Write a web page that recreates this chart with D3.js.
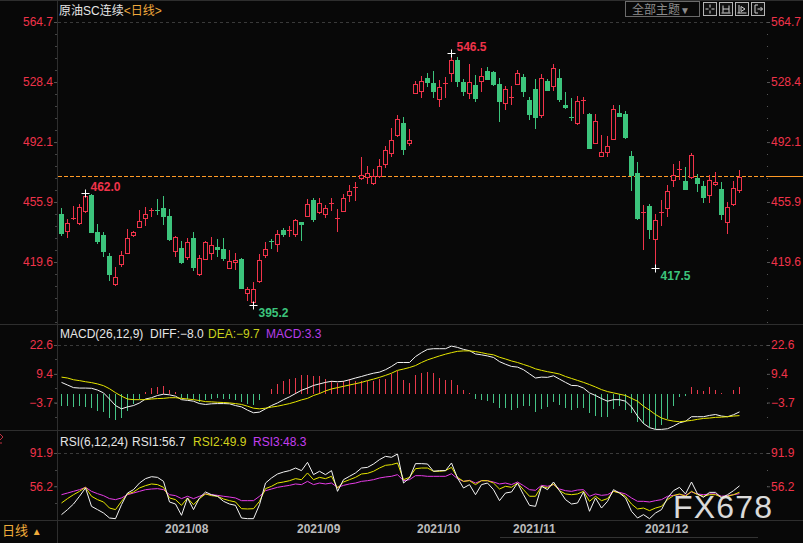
<!doctype html>
<html>
<head>
<meta charset="utf-8">
<title>原油SC连续 日线</title>
<style>
  html, body { margin: 0; padding: 0; background: #080808; }
  svg { display: block; }
  text { font-family: "Liberation Sans", Arial, "Noto Sans CJK SC", sans-serif; }
</style>
</head>
<body>
<div id="chart"></div>
<script src="https://cdn.jsdelivr.net/npm/d3@7"></script>
<script>
// 原油SC连续 日线 2021/07/08 - 2021/12/23
var openP = [
  448.9, 438.4, 445.7, 443.3, 450.5, 460.0, 437.6, 435.8, 423.1, 406.4,
  418.5, 425.1, 436.2, 440.9, 446.5, 450.5, 451.2, 452.2, 447.3, 426.0,
  427.9, 422.7, 434.0, 412.4, 421.7, 425.1, 428.6, 427.4, 416.0, 419.3,
  421.3, 400.9, 395.6, 408.2, 423.7, 432.0, 430.6, 438.7, 438.6, 436.6,
  443.5, 447.5, 457.0, 449.9, 448.7, 454.8, 445.5, 450.5, 460.2, 464.8,
  470.5, 470.7, 467.5, 471.7, 478.6, 485.3, 496.3, 503.6, 491.7, 521.9,
  523.1, 530.8, 527.8, 518.3, 527.4, 534.0, 541.7, 528.4, 521.7, 526.6,
  528.8, 535.0, 534.4, 527.2, 515.7, 519.1, 527.4, 531.4, 517.5, 524.2,
  508.4, 529.0, 526.0, 530.8, 514.5, 507.2, 503.6, 517.3, 509.0, 491.5,
  483.8, 486.0, 494.1, 509.6, 509.0, 483.8, 473.3, 449.5, 453.4, 433.6,
  449.5, 452.4, 468.9, 475.6, 468.3, 470.7, 470.3, 465.5, 459.9, 466.5,
  463.7, 443.5, 454.4, 463.1];
var highP = [
  452.0, 445.3, 453.4, 454.6, 462.0, 460.6, 442.5, 437.6, 424.8, 416.3,
  426.2, 439.3, 438.2, 450.9, 452.8, 452.3, 457.4, 459.4, 451.4, 435.2,
  432.2, 434.2, 437.6, 423.7, 432.2, 434.6, 433.8, 434.0, 426.6, 424.9,
  422.3, 404.5, 407.4, 424.3, 431.8, 433.8, 438.7, 439.9, 441.3, 445.3,
  443.9, 457.6, 458.2, 458.2, 453.8, 458.2, 451.6, 461.0, 466.1, 467.9,
  483.2, 477.6, 475.8, 481.8, 489.9, 500.6, 508.4, 507.2, 500.1, 529.0,
  532.0, 533.7, 535.0, 529.6, 531.4, 546.5, 543.5, 530.2, 539.3, 532.6,
  536.9, 537.5, 535.0, 530.8, 526.0, 526.0, 535.7, 533.2, 519.3, 530.2,
  533.2, 530.2, 539.3, 536.3, 522.3, 518.7, 519.9, 519.3, 509.6, 509.0,
  496.3, 495.7, 514.5, 514.5, 510.9, 486.6, 480.0, 454.0, 454.6, 448.5,
  457.0, 466.1, 478.8, 480.4, 477.0, 485.3, 472.7, 468.5, 472.0, 473.9,
  467.9, 455.8, 468.5, 475.2];
var lowP = [
  435.8, 434.8, 445.5, 442.8, 449.9, 437.5, 430.8, 423.1, 408.6, 405.8,
  417.3, 425.0, 435.4, 440.7, 442.1, 447.5, 448.4, 442.7, 433.2, 423.3,
  419.1, 421.5, 414.7, 412.0, 421.5, 421.5, 423.3, 420.7, 415.7, 415.4,
  403.7, 396.7, 395.2, 407.6, 422.7, 428.1, 426.2, 435.4, 435.4, 435.4,
  432.8, 447.3, 444.3, 449.3, 446.9, 450.9, 438.2, 450.3, 456.4, 457.0,
  469.5, 467.5, 466.7, 471.1, 477.2, 483.6, 495.7, 484.8, 490.5, 521.5,
  519.3, 526.2, 519.3, 513.9, 519.3, 529.0, 526.0, 520.5, 518.7, 516.9,
  523.1, 530.0, 526.6, 504.8, 512.1, 515.1, 527.2, 519.9, 506.0, 500.6,
  507.2, 523.3, 523.5, 516.9, 512.7, 505.4, 503.0, 509.6, 488.3, 491.3,
  483.6, 483.6, 493.9, 507.6, 494.5, 463.1, 445.5, 427.6, 434.0, 417.5,
  442.1, 447.5, 465.7, 469.9, 463.6, 470.5, 462.6, 455.6, 456.0, 466.3,
  445.7, 437.2, 454.2, 462.0];
var closeP = [
  437.2, 442.9, 446.5, 452.6, 459.4, 437.8, 432.4, 426.3, 412.4, 410.8,
  424.1, 434.4, 437.6, 444.1, 448.5, 451.0, 450.8, 447.5, 433.4, 434.6,
  419.5, 431.6, 416.7, 422.3, 431.6, 429.6, 427.6, 422.1, 420.1, 420.7,
  403.9, 403.2, 403.2, 420.7, 427.2, 431.6, 436.3, 436.6, 439.0, 444.7,
  442.7, 454.4, 445.5, 455.0, 452.0, 455.2, 445.9, 458.0, 462.3, 465.2,
  471.9, 473.2, 471.7, 477.6, 487.3, 493.1, 506.0, 488.0, 493.3, 527.0,
  529.0, 528.4, 522.9, 525.4, 527.8, 541.7, 529.0, 522.9, 528.4, 518.7,
  532.0, 530.2, 527.2, 516.9, 524.2, 519.5, 533.8, 522.9, 509.0, 507.2,
  530.8, 523.5, 536.9, 518.1, 513.3, 506.8, 516.9, 517.7, 488.5, 504.8,
  486.0, 489.7, 512.1, 507.8, 495.1, 472.3, 445.9, 449.9, 439.5, 444.7,
  449.9, 462.3, 471.9, 476.0, 463.8, 484.0, 467.5, 458.6, 468.9, 467.9,
  448.7, 452.8, 464.1, 470.7];

// MACD(26,12,9)
var diff = [
  5.5, 4.3, 3.1, 2.9, 2.9, 2.8, 2.0, 0.7, -2.1, -5.1,
  -6.6, -5.7, -5.1, -3.9, -2.1, -1.5, -0.5, 0.1, -0.2, -0.8,
  -2.4, -2.7, -3.1, -4.2, -4.6, -4.3, -4.2, -4.2, -4.3, -5.1,
  -5.7, -7.2, -8.4, -8.1, -6.6, -5.1, -3.9, -2.4, -1.1, 0.4,
  1.9, 2.9, 4.1, 4.8, 5.5, 6.0, 5.8, 6.0, 6.7, 7.5,
  8.2, 9.0, 9.7, 10.2, 11.3, 12.8, 14.6, 14.6, 14.6, 17.3,
  19.1, 20.6, 20.9, 20.9, 20.9, 22.1, 21.5, 20.6, 20.0, 18.5,
  18.1, 17.6, 16.9, 15.0, 13.8, 12.8, 12.5, 11.3, 9.4, 7.5,
  7.9, 7.8, 8.5, 7.0, 5.5, 4.1, 4.0, 2.9, 0.7, -0.5,
  -1.9, -3.1, -2.4, -2.4, -3.1, -5.7, -9.9, -13.3, -15.2, -16.0,
  -16.0, -15.7, -14.5, -13.0, -12.3, -10.2, -10.2, -10.2, -9.6, -9.2,
  -9.9, -10.2, -9.3, -8.0];
var dea = [
  7.9, 7.5, 6.7, 6.3, 5.8, 5.4, 4.8, 4.0, 2.6, 0.8,
  -0.8, -2.1, -2.4, -2.4, -2.4, -2.1, -1.9, -1.8, -1.5, -1.5,
  -1.8, -2.1, -2.4, -2.8, -3.3, -3.4, -3.6, -3.7, -3.9, -4.2,
  -4.6, -5.4, -6.3, -6.6, -6.3, -5.8, -5.4, -4.8, -4.2, -3.4,
  -2.5, -1.8, -0.5, 0.4, 1.6, 2.5, 3.1, 3.7, 4.3, 4.9,
  5.5, 6.3, 7.0, 7.8, 8.7, 9.7, 11.0, 11.6, 12.3, 13.2,
  14.6, 15.8, 16.7, 17.6, 18.4, 19.1, 19.7, 19.9, 19.9, 19.6,
  19.1, 18.5, 18.1, 17.0, 16.2, 15.3, 14.6, 13.7, 12.8, 11.7,
  11.0, 10.4, 9.9, 9.3, 8.2, 7.3, 6.4, 5.5, 4.5, 3.4,
  2.2, 1.3, 0.7, 0.1, -0.5, -1.8, -3.1, -5.4, -7.2, -9.2,
  -10.8, -11.7, -12.2, -12.5, -12.2, -11.9, -11.4, -11.0, -10.8, -10.5,
  -10.4, -10.2, -9.9, -9.7];
var macdBar = [
  -5.4, -5.4, -5.9, -5.4, -5.9, -6.4, -7.4, -8.2, -10.6, -11.5,
  -10.6, -7.4, -4.4, -2.1, 1.2, 2.9, 3.5, 3.9, 2.0, 0.9,
  -1.5, -2.1, -2.1, -3.3, -2.7, -2.1, -1.7, -2.1, -2.1, -2.7,
  -3.6, -4.4, -4.8, -2.6, 0.3, 2.7, 4.7, 6.2, 7.0, 7.7,
  8.8, 8.8, 8.2, 8.2, 7.0, 6.2, 5.4, 6.1, 7.0, 6.2,
  6.2, 6.2, 6.2, 7.0, 7.0, 9.2, 10.7, 6.5, 5.4, 8.8,
  10.0, 10.3, 10.0, 7.4, 6.5, 6.5, 4.2, 1.8, 0.6, -2.1,
  -2.6, -2.9, -3.9, -6.4, -6.4, -7.0, -6.4, -5.4, -5.4, -8.2,
  -6.7, -5.9, -3.6, -4.8, -6.4, -7.0, -6.4, -6.4, -8.5, -9.7,
  -10.4, -10.4, -6.7, -5.1, -7.0, -8.5, -12.4, -13.5, -15.0, -15.7,
  -13.9, -11.2, -5.4, -1.4, -0.9, 3.2, 2.1, 1.7, 3.5, 2.0,
  0.6, 0.2, 2.0, 3.3];

// RSI(6,12,24)
var rsi1 = [
  25.8, 31.2, 37.2, 45.5, 54.4, 34.7, 31.2, 27.6, 22.2, 21.5,
  36.5, 49.0, 52.6, 59.7, 64.4, 66.5, 65.8, 61.5, 39.4, 37.2,
  25.1, 43.7, 31.2, 43.7, 50.1, 47.2, 45.5, 40.1, 37.2, 35.8,
  22.2, 21.5, 21.5, 36.5, 59.7, 65.1, 69.4, 71.5, 73.0, 75.8,
  73.0, 81.9, 68.7, 72.3, 68.7, 73.0, 50.8, 63.3, 66.9, 70.5,
  75.8, 76.5, 80.1, 84.8, 88.3, 87.3, 90.8, 59.7, 65.1, 80.5,
  80.5, 80.1, 72.3, 73.0, 73.0, 81.2, 65.1, 54.4, 58.0, 47.2,
  58.0, 59.7, 52.6, 40.8, 49.0, 50.1, 59.7, 47.2, 35.8, 34.7,
  56.2, 52.6, 60.8, 51.5, 41.9, 37.2, 38.3, 50.1, 29.4, 43.7,
  32.9, 40.1, 52.6, 49.0, 43.7, 29.4, 22.2, 25.8, 21.5, 27.6,
  31.2, 43.7, 51.5, 55.1, 48.0, 60.8, 48.0, 44.4, 49.7, 49.7,
  43.7, 47.2, 51.5, 56.7];
var rsi2 = [
  38.3, 43.0, 47.2, 50.8, 55.1, 45.5, 41.9, 39.4, 32.9, 31.2,
  40.1, 48.0, 50.1, 54.4, 56.9, 58.7, 58.0, 55.1, 43.7, 41.9,
  35.8, 43.7, 36.5, 43.0, 48.0, 46.2, 45.5, 42.6, 40.8, 39.4,
  32.2, 31.9, 32.2, 40.1, 53.7, 56.2, 59.7, 60.8, 62.2, 64.4,
  63.3, 70.5, 63.3, 65.8, 64.4, 66.9, 54.4, 60.8, 63.3, 65.8,
  69.4, 70.1, 72.3, 75.8, 78.7, 79.4, 81.2, 63.3, 65.8, 75.1,
  75.8, 75.8, 72.3, 72.3, 73.0, 76.5, 65.8, 61.5, 62.2, 58.0,
  62.2, 62.2, 59.7, 53.3, 56.2, 55.1, 59.7, 52.6, 45.5, 45.5,
  56.2, 54.4, 58.7, 51.5, 48.0, 47.2, 48.0, 50.8, 40.1, 45.5,
  40.8, 43.0, 50.8, 49.0, 45.5, 37.2, 31.9, 32.9, 30.1, 32.9,
  34.7, 41.9, 46.2, 48.0, 45.5, 50.8, 47.2, 45.5, 47.2, 47.2,
  44.4, 45.5, 47.2, 49.9];
var rsi3 = [
  47.2, 49.0, 50.8, 52.6, 55.1, 50.8, 48.3, 46.2, 43.0, 41.9,
  43.7, 47.2, 49.0, 50.8, 52.6, 53.3, 53.7, 52.6, 47.2, 46.2,
  43.0, 45.5, 43.0, 45.5, 48.0, 47.2, 46.5, 45.5, 44.7, 43.7,
  40.8, 40.8, 40.8, 45.5, 51.5, 53.3, 55.1, 56.2, 57.2, 58.7,
  58.0, 61.5, 58.0, 59.7, 58.7, 59.7, 55.1, 57.2, 58.7, 59.7,
  61.5, 62.2, 63.3, 65.1, 66.2, 66.9, 68.7, 62.2, 63.3, 67.6,
  67.6, 66.9, 66.9, 66.9, 66.9, 69.7, 64.4, 61.5, 62.6, 59.7,
  62.2, 62.2, 60.8, 58.7, 59.7, 58.0, 60.8, 56.9, 52.6, 51.9,
  57.2, 56.2, 58.0, 53.3, 51.5, 50.8, 52.2, 52.6, 45.5, 48.0,
  46.5, 47.2, 50.8, 49.7, 48.0, 43.7, 40.1, 40.1, 39.4, 40.8,
  41.9, 45.5, 46.5, 47.2, 46.5, 50.1, 48.0, 47.2, 48.0, 48.0,
  45.5, 46.2, 47.2, 48.3];

// axis ticks and month labels
var priceTicks = [564.7, 528.4, 492.1, 455.9, 419.6];
var macdTicks = [22.6, 9.4, -3.7];
var rsiTicks = [91.9, 56.2];
var monthLabels = ["2021/08", "2021/09", "2021/10", "2021/11", "2021/12"];
var monthStart = [17, 39, 59, 75, 97];   // index of first trading day
// marked extremes (index of candle, high or low)
var marks = [{i: 4, type: "high"}, {i: 32, type: "low"}, {i: 65, type: "high"}, {i: 99, type: "low"}];

var W = 803, H = 543;
var bg = "#080808", red = "#f0334a", green = "#3cc47c", line = "#2e2e2e", orange = "#ff9a26";
var n = closeP.length;

var svg = d3.select("#chart").append("svg")
  .attr("width", W).attr("height", H)
  .style("background", bg);

// scales
var x = d3.scaleBand().domain(d3.range(n)).range([58, 58 + 6 * n]);
function xc(i) { return x(i) + x.bandwidth() / 2; }
var yP = d3.scaleLinear().domain([564.7, 419.6]).range([22, 262]);
var yM = d3.scaleLinear().domain([22.6, -3.7]).range([345, 402.5]);
var yR = d3.scaleLinear().domain([91.9, 56.2]).range([453, 486.3]);

var defs = svg.append("defs");
function clip(id, y0, y1) {
  defs.append("clipPath").attr("id", id).append("rect")
    .attr("x", 58).attr("y", y0).attr("width", 709).attr("height", y1 - y0);
}
clip("cP", 18, 324);
clip("cM", 325, 430);
clip("cR", 432, 520);

// frame lines
[0.5, 324.5, 430.5, 520.5].forEach(function (yy) {
  svg.append("line").attr("x1", 0).attr("x2", W).attr("y1", yy).attr("y2", yy)
    .attr("stroke", line);
});
svg.append("line").attr("x1", 57.5).attr("x2", 57.5).attr("y1", 0).attr("y2", H).attr("stroke", line);

// dashed top gridlines
[yP(priceTicks[0]), yM(macdTicks[0]), yR(rsiTicks[0])].forEach(function (yy) {
  svg.append("line").attr("x1", 58).attr("x2", 767).attr("y1", Math.round(yy) + 0.5).attr("y2", Math.round(yy) + 0.5)
    .attr("stroke", "#3a3a3a").attr("stroke-dasharray", "3,3");
});

// minor ticks
function minor(scale, v0, step, vEnd) {
  d3.range(v0, vEnd, -step).forEach(function (v) {
    var yy = Math.round(scale(v)) + 0.5;
    svg.append("line").attr("x1", 55).attr("x2", 57).attr("y1", yy).attr("y2", yy).attr("stroke", "#444");
    svg.append("line").attr("x1", 767).attr("x2", 768).attr("y1", yy).attr("y2", yy).attr("stroke", "#555");
  });
}
minor(yP, 564.7, 36.28 / 5, 382);
minor(yM, 22.6, 13.15 / 2, -13);
minor(yR, 91.9, 35.7 / 2, 21);

// axes
function sideAxes(scale, ticks) {
  var l = svg.append("g").attr("transform", "translate(57,0)")
    .call(d3.axisLeft(scale).tickValues(ticks).tickSize(3).tickPadding(1).tickFormat(d3.format(".1f")));
  var r = svg.append("g").attr("transform", "translate(767,0)")
    .call(d3.axisRight(scale).tickValues(ticks).tickSize(3).tickPadding(1).tickFormat(d3.format(".1f")));
  [l, r].forEach(function (g) {
    g.select(".domain").remove();
    g.attr("font-size", 12).attr("font-family", "Liberation Sans, Arial, sans-serif");
    g.selectAll("line").attr("stroke", "#555");
    g.selectAll("text").attr("fill", red);
  });
}
sideAxes(yP, priceTicks);
sideAxes(yM, macdTicks);
sideAxes(yR, rsiTicks);

// current price line
var yLast = Math.floor(yP(closeP[n - 1])) - 0.5;
svg.append("line").attr("x1", 58).attr("x2", 767).attr("y1", yLast).attr("y2", yLast)
  .attr("stroke", orange).attr("stroke-dasharray", "4,2");
svg.append("line").attr("x1", 767).attr("x2", W).attr("y1", yLast).attr("y2", yLast)
  .attr("stroke", orange);

// candles
var gK = svg.append("g").attr("clip-path", "url(#cP)");
var k = gK.selectAll("g").data(d3.range(n)).enter().append("g");
k.each(function (i) {
  var g = d3.select(this);
  var cx = xc(i), up = closeP[i] >= openP[i];
  var col = up ? red : green;
  var top = Math.round(yP(Math.max(openP[i], closeP[i])));
  var bot = Math.round(yP(Math.min(openP[i], closeP[i])));
  g.append("line").attr("x1", cx + 0.5).attr("x2", cx + 0.5)
    .attr("y1", Math.round(yP(highP[i]))).attr("y2", Math.round(yP(lowP[i])) + 1)
    .attr("stroke", col);
  if (bot - top < 2) {
    g.append("line").attr("x1", cx - 2).attr("x2", cx + 3)
      .attr("y1", top + 0.5).attr("y2", top + 0.5).attr("stroke", col);
  } else if (up) {
    g.append("rect").attr("x", cx - 1.5).attr("y", top + 0.5)
      .attr("width", 4).attr("height", bot - top)
      .attr("fill", bg).attr("stroke", col);
  } else {
    g.append("rect").attr("x", cx - 2).attr("y", top)
      .attr("width", 5).attr("height", bot - top + 1)
      .attr("fill", col);
  }
});

// extreme marks
marks.forEach(function (m) {
  var v = m.type === "high" ? highP[m.i] : lowP[m.i];
  var cx = xc(m.i) + 0.5, yy = Math.round(yP(v)) + (m.type === "high" ? 1 : 3) + 0.5;
  svg.append("path").attr("d", "M" + (cx - 4) + "," + yy + "H" + (cx + 4) + "M" + cx + "," + (yy - 4) + "V" + (yy + 4))
    .attr("stroke", "#fff");
  svg.append("text").attr("x", cx + 5).attr("y", m.type === "high" ? yP(v) - 1 : yP(v) + 15)
    .attr("fill", m.type === "high" ? red : green).attr("font-size", 12).attr("font-weight", "bold")
    .text(d3.format(".1f")(v));
});

// MACD
var gM = svg.append("g").attr("clip-path", "url(#cM)");
gM.selectAll("line").data(macdBar).enter().append("line")
  .attr("x1", function (d, i) { return xc(i) + 0.5; })
  .attr("x2", function (d, i) { return xc(i) + 0.5; })
  .attr("y1", Math.round(yM(0)))
  .attr("y2", function (d) { return Math.round(yM(d)); })
  .attr("stroke", function (d) { return d >= 0 ? "#e8394b" : "#45c487"; });
function pathOf(g, data, scale, col) {
  g.append("path").datum(data)
    .attr("d", d3.line().x(function (d, i) { return xc(i) + 0.5; }).y(function (d) { return scale(d); }))
    .attr("fill", "none").attr("stroke", col).attr("stroke-width", 1);
}
pathOf(gM, diff, yM, "#f4f4f4");
pathOf(gM, dea, yM, "#e6e600");

// RSI
var gR = svg.append("g").attr("clip-path", "url(#cR)");
pathOf(gR, rsi3, yR, "#e63ce6");
pathOf(gR, rsi2, yR, "#e6e600");
pathOf(gR, rsi1, yR, "#f4f4f4");

// titles
var t1 = svg.append("text").attr("x", 59).attr("y", 15).attr("font-size", 12)
  .attr("font-family", "Noto Sans CJK SC, sans-serif");
t1.append("tspan").attr("fill", "#e6e6e6").text("原油SC连续");
t1.append("tspan").attr("fill", "#f0a83c").text("<日线>");

var mt = svg.append("text").attr("y", 338).attr("font-size", 12);
mt.append("tspan").attr("x", 60).attr("fill", "#e6e6e6").text("MACD(26,12,9)");
mt.append("tspan").attr("x", 150).attr("fill", "#e6e6e6").text("DIFF:" + d3.format(".1f")(diff[n - 1]));
mt.append("tspan").attr("x", 208).attr("fill", "#c8d21c").text("DEA:" + d3.format(".1f")(dea[n - 1]));
mt.append("tspan").attr("x", 266).attr("fill", "#b63ee8").text("MACD:" + d3.format(".1f")(macdBar[n - 1]));

var rt = svg.append("text").attr("y", 446).attr("font-size", 12);
rt.append("tspan").attr("x", 60).attr("fill", "#e6e6e6").text("RSI(6,12,24)");
rt.append("tspan").attr("x", 132).attr("fill", "#e6e6e6").text("RSI1:" + d3.format(".1f")(rsi1[n - 1]));
rt.append("tspan").attr("x", 193).attr("fill", "#d2d21c").text("RSI2:" + d3.format(".1f")(rsi2[n - 1]));
rt.append("tspan").attr("x", 253).attr("fill", "#c43ef0").text("RSI3:" + d3.format(".1f")(rsi3[n - 1]));

// month labels
svg.selectAll(".mon").data(monthLabels).enter().append("text")
  .attr("x", function (d, i) { return xc(monthStart[i]) + 2; })
  .attr("y", 533).attr("font-size", 12).attr("font-weight", "bold")
  .attr("fill", "#bcbcbc").text(function (d) { return d; });

// bottom left
var bl = svg.append("text").attr("x", 2).attr("y", 535).attr("font-size", 13).attr("fill", "#f0ac3a")
  .attr("font-family", "Noto Sans CJK SC, sans-serif");
bl.append("tspan").text("日线 ");
bl.append("tspan").attr("font-size", 10).text("▲");
svg.append("line").attr("x1", 500).attr("x2", 758).attr("y1", 537.5).attr("y2", 537.5).attr("stroke", "#333");
svg.append("path").attr("d", "M0,434L3,437L0,440M0,443H2").attr("stroke", "#c03040").attr("fill", "none");

// toolbar
svg.append("rect").attr("x", 625.5).attr("y", 1.5).attr("width", 74).attr("height", 15)
  .attr("fill", "none").attr("stroke", "#6a6a6a");
var tb = svg.append("text").attr("x", 632).attr("y", 13.5).attr("font-size", 12).attr("fill", "#8c8c8c")
  .attr("font-family", "Noto Sans CJK SC, sans-serif");
tb.append("tspan").text("全部主题");
tb.append("tspan").attr("font-size", 10).text("▼");
var glyphs = [
  "M2,6.5h3M8,6.5h3M6.5,2v3M6.5,8v3",
  "M3.5,3v7M9.5,3v7M3.5,6.5h6M2,10.5h9",
  "M3.5,2.5v8M5.5,4v5l4,-2.5z M2,10.5h9",
  "M3.5,2.5v8M3.5,2.5h3M3.5,10.5h3M6,6.5h5M9,4.5l2,2l-2,2"
];
glyphs.forEach(function (gl, j) {
  var bx = 703.5 + 16 * j;
  svg.append("rect").attr("x", bx).attr("y", 2.5).attr("width", 13).attr("height", 13)
    .attr("fill", "#111").attr("stroke", "#b4b4b4");
  svg.append("path").attr("transform", "translate(" + bx + ",2.5)").attr("d", gl)
    .attr("fill", "none").attr("stroke", "#d0d0d0");
});

// watermark
svg.append("text").attr("x", 673).attr("y", 518).attr("font-size", 32)
  .attr("letter-spacing", 1.2).attr("fill", "#ececec").attr("opacity", 0.92)
  .text("FX678");
</script>
</body>
</html>
